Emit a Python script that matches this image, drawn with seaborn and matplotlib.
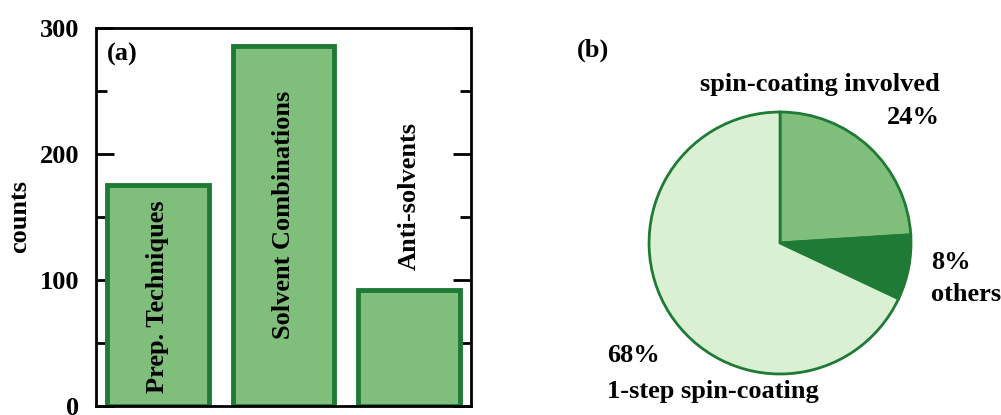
import matplotlib
matplotlib.use("Agg")
import matplotlib.pyplot as plt
import seaborn as sns
import pandas as pd
from matplotlib.ticker import MultipleLocator

sns.set_theme(style="white")
plt.rcParams['font.family'] = ['Liberation Serif', 'DejaVu Serif']
plt.rcParams['font.weight'] = 'bold'
plt.rcParams['text.color'] = 'black'
plt.rcParams['axes.labelcolor'] = 'black'
plt.rcParams['ytick.color'] = 'black'

# --- dati ---
categorie = ["Prep. Techniques", "Solvent Combinations", "Anti-solvents"]
conteggi = [175, 286, 92]
etichette_y = [87, 152, 167]  # posizione verticale del testo nelle barre

fette_nomi = ["spin-coating involved", "others", "1-step spin-coating"]
fette_perc = [24, 8, 68]

verde_scuro = "#1f7a36"
verde_medio = "#80bf7b"
verde_chiaro = "#d9f0d3"

FS = 19

fig = plt.figure(figsize=(10.01, 4.15), dpi=100)

# ==== (a) barre ====
ax = fig.add_axes([0.0959, 0.0217, 0.3746, 0.911])
df = pd.DataFrame({"cat": categorie, "n": conteggi})
sns.barplot(data=df, x="cat", y="n", color=verde_medio, saturation=1,
            width=0.81, edgecolor=verde_scuro, linewidth=3.5, ax=ax)
ax.set_xlim(-0.49, 2.49)
ax.set_ylim(0, 300)
ax.set_xticks([])
ax.set_xlabel("")
ax.yaxis.set_major_locator(MultipleLocator(100))
ax.yaxis.set_minor_locator(MultipleLocator(50))
ax.tick_params(axis='y', which='major', direction='in', length=13, width=2,
               left=True, right=True, labelsize=FS, pad=12)
ax.tick_params(axis='y', which='minor', direction='in', length=8, width=2,
               left=True, right=True)
for lab in ax.get_yticklabels():
    lab.set_fontweight('bold')
for sp in ax.spines.values():
    sp.set_linewidth(2)
    sp.set_color('black')
ax.set_ylabel("counts", fontsize=FS, fontweight='bold', labelpad=6)
for i, (nome, yy) in enumerate(zip(categorie, etichette_y)):
    ax.text(i, yy, nome, rotation=90, ha='center', va='center',
            fontsize=FS, fontweight='bold')
ax.text(0.03, 0.93, "(a)", transform=ax.transAxes, ha='left', va='center',
        fontsize=FS, fontweight='bold')

# ==== (b) torta ====
ax2 = fig.add_axes([0.6484, 0.0988, 0.2617, 0.6313])
ax2.pie(fette_perc, colors=[verde_medio, verde_scuro, verde_chiaro],
        startangle=90, counterclock=False, radius=1,
        wedgeprops=dict(edgecolor=verde_scuro, linewidth=2))
ax2.set_xlim(-1, 1)
ax2.set_ylim(-1, 1)
ax2.set_aspect('auto')
ax2.axis('off')

kw = dict(fontsize=FS, fontweight='bold', clip_on=False)
ax2.text(1.22, 1.21, fette_nomi[0], ha='right', va='center', **kw)
ax2.text(1.22, 0.96, f"{fette_perc[0]}%", ha='right', va='center', **kw)
ax2.text(1.15, -0.15, f"{fette_perc[1]}%", ha='left', va='center', **kw)
ax2.text(1.15, -0.39, fette_nomi[1], ha='left', va='center', **kw)
ax2.text(-1.32, -0.86, f"{fette_perc[2]}%", ha='left', va='center', **kw)
ax2.text(-1.32, -1.13, fette_nomi[2], ha='left', va='center', **kw)
ax2.text(-1.55, 1.47, "(b)", ha='left', va='center', **kw)

fig.savefig("out.png", dpi=100)
